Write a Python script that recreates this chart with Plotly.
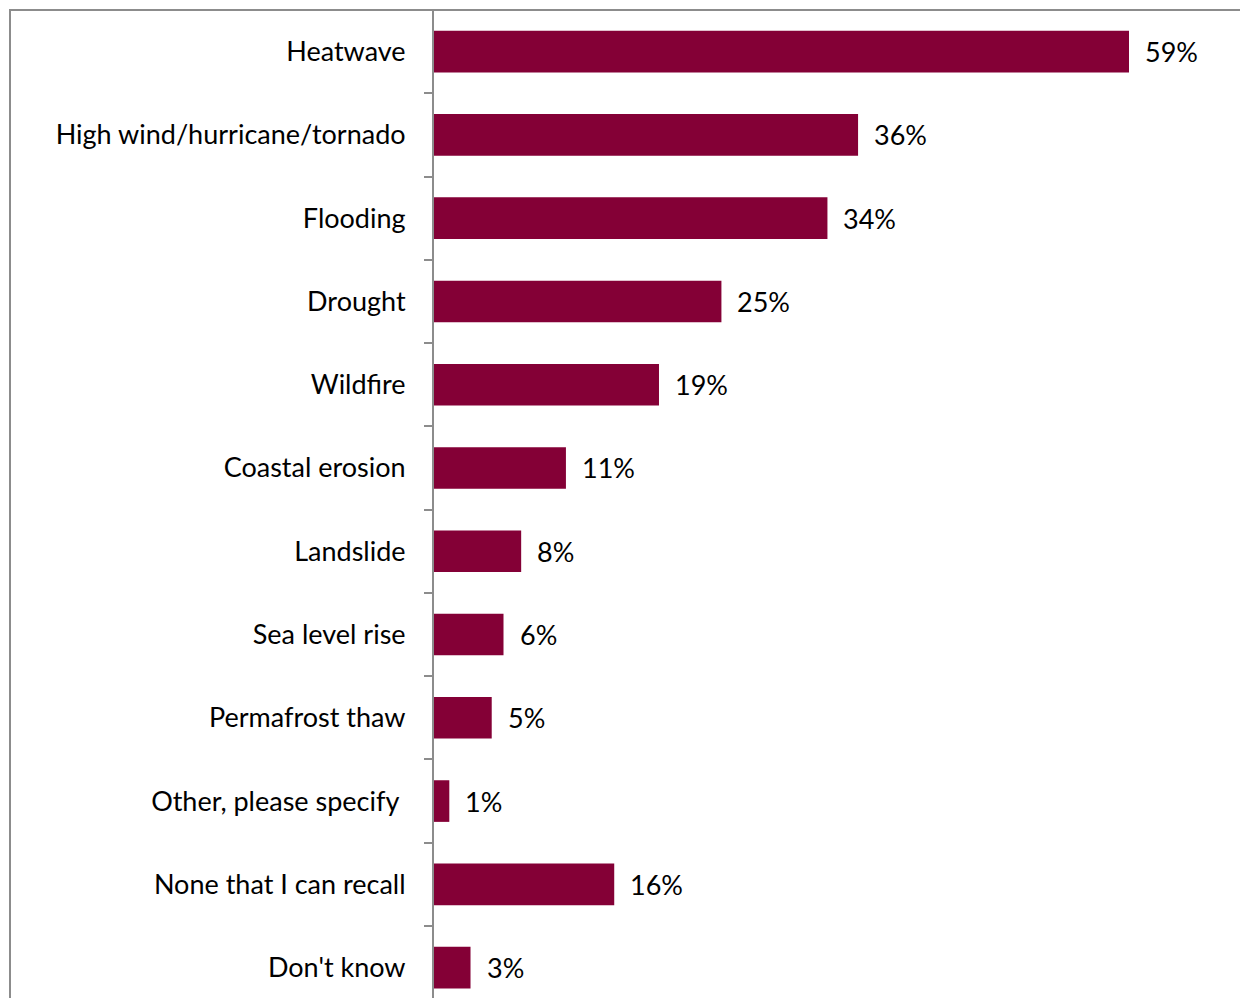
import plotly.graph_objects as go

categories = ["Heatwave", "High wind/hurricane/tornado", "Flooding", "Drought", "Wildfire",
              "Coastal erosion", "Landslide", "Sea level rise", "Permafrost thaw",
              "Other, please specify\u00a0", "None that I can recall", "Don't know"]
values = [59.0, 36.0, 33.4, 24.4, 19.1, 11.2, 7.4, 5.9, 4.9, 1.3, 15.3, 3.1]
labels = ["59%", "36%", "34%", "25%", "19%", "11%", "8%", "6%", "5%", "1%", "16%", "3%"]

OFF = 8  # page body margin
W, H = 1248 - OFF, 998 - OFF
L, T = 434 - OFF, 10 - OFF
plot_w = W - L
plot_h = H - T
px_per_pct = (1130 - 435) / 59.0
px_per_cat = 83.27
FONT = "Lato"
FS = 27

fig = go.Figure(go.Bar(
    x=values, y=categories, orientation="h",
    marker=dict(color="#840036", line=dict(width=0)),
    width=0.5,
))

for c, v, t in zip(categories, values, labels):
    fig.add_annotation(x=v, y=c, text=t, showarrow=False, xanchor="left",
                       xshift=14, font=dict(size=FS, color="#000000", family=FONT))

fig.add_shape(type="rect", xref="paper", yref="paper",
              x0=(10 - 434) / plot_w, x1=1.2, y0=-0.2, y1=1.0,
              line=dict(color="#8c8c8c", width=2), layer="above")

fig.update_layout(
    width=W, height=H,
    margin=dict(l=L, r=0, t=T, b=0, pad=0),
    paper_bgcolor="white", plot_bgcolor="white",
    showlegend=False,
    font=dict(family=FONT, size=FS, color="#000000"),
    xaxis=dict(range=[0, plot_w / px_per_pct], visible=False, showgrid=False, zeroline=False),
    yaxis=dict(range=[-0.5 + plot_h / px_per_cat, -0.5], showgrid=False, zeroline=False,
               showline=True, linecolor="#8c8c8c", linewidth=2,
               ticks="outside", tickson="boundaries", ticklen=8, tickcolor="#8c8c8c",
               tickwidth=1.5, ticklabelstandoff=21),
)

fig.write_html("out.html")
